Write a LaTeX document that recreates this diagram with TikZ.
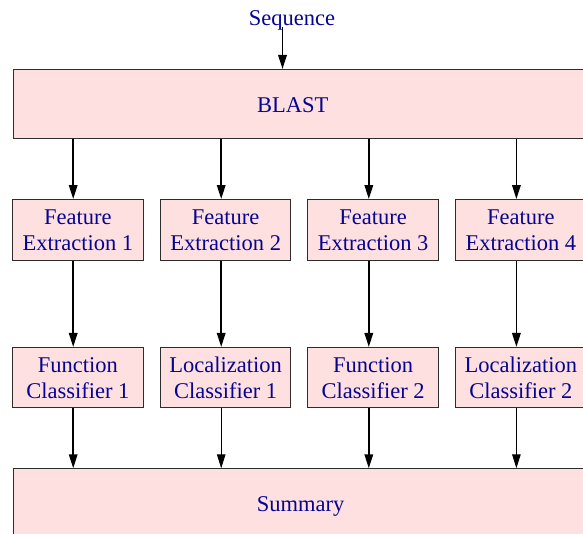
\documentclass[tikz,border=0pt]{standalone}
\usepackage{fontspec}
\setmainfont{Liberation Serif}
\usetikzlibrary{arrows.meta}
\definecolor{txtblue}{RGB}{5,5,145}
\definecolor{boxfill}{RGB}{255,224,224}
\definecolor{boxline}{RGB}{45,45,45}
\begin{document}
\begin{tikzpicture}[x=1pt,y=-1pt,
  lbl/.style={text=txtblue,font=\fontsize{22.5}{26}\selectfont,align=center,inner sep=0pt},
  stagebox/.style={draw=boxline,fill=boxfill,line width=1pt,inner sep=0pt,
    minimum width=130.3pt,minimum height=60.5pt,
    text=txtblue,font=\fontsize{22.5}{26}\selectfont,align=center},
  bigbox/.style={draw=boxline,fill=boxfill,line width=1pt,inner sep=0pt,
    minimum width=600pt,minimum height=69pt},
  arr/.style={-{Triangle[length=14pt,width=8.5pt]},line width=1.7pt,black},
  thinarr/.style={-{Triangle[length=14pt,width=8.5pt]},line width=1pt,black}]
\useasboundingbox (0,0) rectangle (583,534);
\clip (0,0) rectangle (583,534);
% big boxes
\node[bigbox,anchor=north west] (blast) at (12.5,69) {};
\node[lbl] (blasttxt) at (292.7,105.3) {BLAST};
\node[bigbox,anchor=north west] (summary) at (12.5,468.3) {};
\node[lbl] (summarytxt) at (300.7,506.2) {Summary};
\node[lbl] (seq) at (292,20.8) {Sequence};
% stage boxes
\node[stagebox] (fe1) at (77.85,229.8) {Feature\\Extraction 1};
\node[stagebox] (fe2) at (225.7,229.8) {Feature\\Extraction 2};
\node[stagebox] (fe3) at (373.1,229.8) {Feature\\Extraction 3};
\node[stagebox] (fe4) at (520.9,229.8) {Feature\\Extraction 4};
\node[stagebox] (cl1) at (77.85,377.7) {Function\\Classifier 1};
\node[stagebox] (cl2) at (225.7,377.7) {Localization\\Classifier 1};
\node[stagebox] (cl3) at (373.1,377.7) {Function\\Classifier 2};
\node[stagebox] (cl4) at (520.9,377.7) {Localization\\Classifier 2};
% column coordinates
\coordinate (c0) at (282.5,27);
\coordinate (c1) at (73.2,0);
\coordinate (c2) at (221.2,0);
\coordinate (c3) at (368.8,0);
\coordinate (c4) at (516.4,0);
% connectors
\draw[arr] (c0) -- (blast.north -| c0);
\draw[arr] (blast.south -| c1) -- (fe1.north -| c1);
\draw[arr] (blast.south -| c2) -- (fe2.north -| c2);
\draw[arr] (blast.south -| c3) -- (fe3.north -| c3);
\draw[arr] (blast.south -| c4) -- (fe4.north -| c4);
\draw[arr] (fe1.south -| c1) -- (cl1.north -| c1);
\draw[arr] (fe2.south -| c2) -- (cl2.north -| c2);
\draw[arr] (fe3.south -| c3) -- (cl3.north -| c3);
\draw[arr] (fe4.south -| c4) -- (cl4.north -| c4);
\draw[arr] (cl1.south -| c1) -- (summary.north -| c1);
\draw[thinarr] (cl2.south -| c2) -- (summary.north -| c2);
\draw[arr] (cl3.south -| c3) -- (summary.north -| c3);
\draw[thinarr] (cl4.south -| c4) -- (summary.north -| c4);
\end{tikzpicture}
\end{document}
